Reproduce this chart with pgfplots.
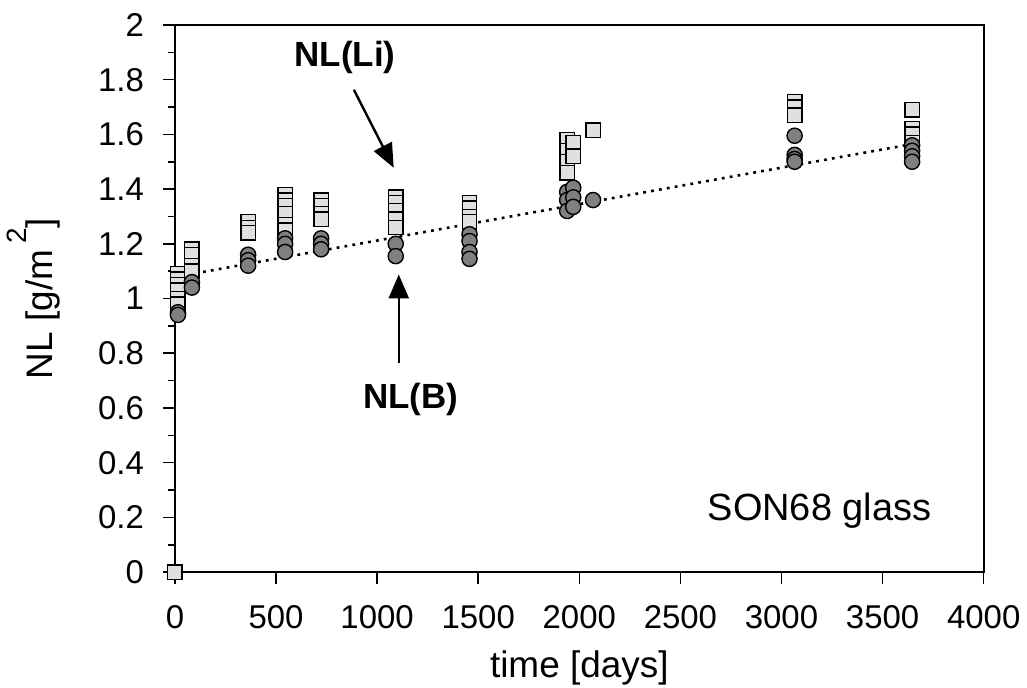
\documentclass[border=0pt]{standalone}
\usepackage{pgfplots}
\pgfplotsset{compat=1.18}
\usepackage{fontspec}
\setmainfont{Liberation Sans}
\usetikzlibrary{arrows.meta}

\definecolor{sqfill}{HTML}{E0E0E0}
\definecolor{cifill}{HTML}{808080}

\begin{document}
\begin{tikzpicture}
\begin{axis}[
    scale only axis,
    width=405pt, height=274pt,
    xmin=0, xmax=4000,
    ymin=0, ymax=2,
    xtick={0,500,...,4000},
    ytick={0,0.2,...,2.01},
    minor ytick={0.1,0.3,...,1.91},
    yticklabel style={/pgf/number format/fixed},
    /pgf/number format/assume math mode=true,
    scaled x ticks=false,
    xticklabel style={/pgf/number format/set thousands separator={}},
    tick align=outside,
    xtick pos=bottom, ytick pos=left,
    major tick length=6pt, minor tick length=3.5pt,
    tick style={black, line width=0.8pt},
    axis line style={line width=1pt},
    ticklabel style={font=\fontsize{16.5}{19}\selectfont},
    label style={font=\fontsize{18.5}{21}\selectfont},
    xticklabel shift=7pt,
    yticklabel shift=6pt,
    xlabel={time [days]},
    ylabel={NL [g/m\,\raisebox{0.72em}{\fontsize{14}{14}\selectfont 2}]},
    xlabel style={inner sep=1.5pt, yshift=-6pt},
    ylabel style={yshift=12pt},
    clip=false,
]
% dotted trend line
\addplot[black, line width=1.3pt, dash pattern=on 1.4pt off 2.6pt, mark=none]
    coordinates {(100,1.092) (3650,1.565)};
% NL(Li) squares
\addplot[only marks, mark=square*, mark size=3.6pt,
    mark options={fill=sqfill, draw=black, line width=0.7pt}]
    coordinates {
    (0,0)
    (15,1.09) (15,1.07) (15,1.05) (15,1.03) (15,1.00) (15,0.98)
    (84,1.18) (84,1.16) (84,1.12) (84,1.10)
    (362,1.28) (362,1.26) (362,1.24)
    (545,1.38) (545,1.36) (545,1.34) (545,1.31) (545,1.27) (545,1.25)
    (723,1.36) (723,1.34) (723,1.31) (723,1.29)
    (1092,1.37) (1092,1.35) (1092,1.32) (1092,1.29) (1092,1.26)
    (1457,1.35) (1457,1.33) (1457,1.30) (1457,1.28)
    (1940,1.58) (1940,1.54) (1940,1.50) (1940,1.46)
    (1970,1.57) (1970,1.52)
    (2068,1.615)
    (3065,1.72) (3065,1.70) (3065,1.67)
    (3646,1.69) (3646,1.62) (3646,1.60) (3646,1.57)
    };
% NL(B) circles
\addplot[only marks, mark=*, mark size=3.8pt,
    mark options={fill=cifill, draw=black, line width=0.7pt}]
    coordinates {
    (15,0.95) (15,0.94)
    (84,1.06) (84,1.04)
    (362,1.16) (362,1.14) (362,1.12)
    (545,1.22) (545,1.20) (545,1.17)
    (723,1.22) (723,1.20) (723,1.18)
    (1092,1.20) (1092,1.155)
    (1457,1.235) (1457,1.21) (1457,1.17) (1457,1.145)
    (1940,1.39) (1940,1.36) (1940,1.32)
    (1970,1.405) (1970,1.37) (1970,1.335)
    (2068,1.36)
    (3065,1.595) (3065,1.525) (3065,1.51) (3065,1.50)
    (3646,1.56) (3646,1.54) (3646,1.52) (3646,1.50)
    };
% annotations
\node[font=\bfseries\fontsize{17.5}{20}\selectfont] at (axis cs:841,1.88) {NL(Li)};
\draw[line width=1.2pt, -{Triangle[width=10pt,length=12pt]}]
    (axis cs:885,1.763) -- (axis cs:1082,1.478);
\node[font=\bfseries\fontsize{17.5}{20}\selectfont] at (axis cs:1166,0.63) {NL(B)};
\draw[line width=1.2pt, -{Triangle[width=10pt,length=12pt]}]
    (axis cs:1107,0.766) -- (axis cs:1107,1.088);
\node[font=\fontsize{19}{22}\selectfont] at (axis cs:3188,0.226) {SON68 glass};
% a little room above the frame, as in the original
\path (axis cs:0,2) ++(0,12.5pt);
\end{axis}
\end{tikzpicture}
\end{document}
